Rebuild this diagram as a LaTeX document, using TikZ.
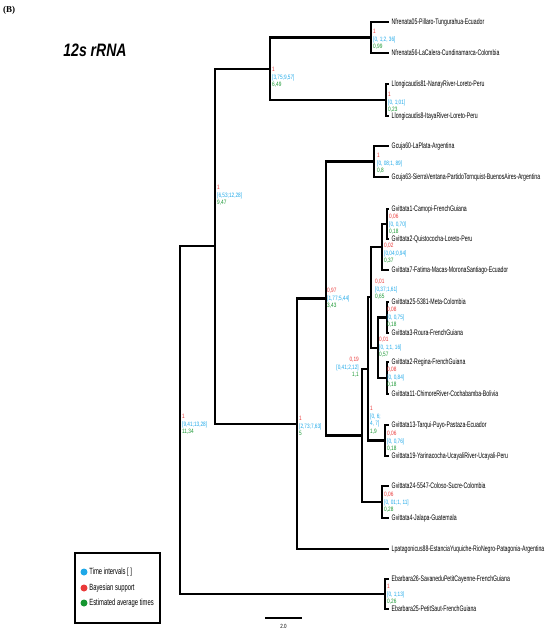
\documentclass[tikz,border=0pt]{standalone}
\usepackage{fontspec}
\usetikzlibrary{positioning}
\newfontfamily\treefont[FakeStretch=0.65]{Liberation Sans}
\newfontfamily\labfont[FakeStretch=0.75]{Liberation Sans}
\newfontfamily\titlefont[FakeStretch=0.78]{Liberation Sans}
\newfontfamily\panelfont{Liberation Serif}
\definecolor{bsup}{RGB}{234,58,58}
\definecolor{tint}{RGB}{30,168,232}
\definecolor{etime}{RGB}{22,150,48}
\newcommand{\nlab}[3]{\textcolor{bsup}{#1}\\\textcolor{tint}{#2}\\\textcolor{etime}{#3}}

\begin{document}
\begin{tikzpicture}[x=1pt,y=-1pt]
        \tikzstyle{every node}+=[inner sep=0pt]
        \tikzstyle{tip}=[anchor=west,inner xsep=3.5pt,font=\treefont\fontsize{8}{9}\selectfont]
        \tikzstyle{lab}=[anchor=north west,align=left,font=\labfont\fontsize{6.3}{7.6}\selectfont]
        \tikzstyle{hbranch}=[line width=2.8pt,line cap=rect]
        \tikzstyle{vbranch}=[line width=2pt]
        \tikzstyle{dot}=[circle,minimum size=7pt]
        \tikzstyle{key}=[font=\treefont\fontsize{9}{10}\selectfont]
        \useasboundingbox (0,0) rectangle (550,637);
        \node[anchor=west,font=\panelfont\bfseries\fontsize{9}{10}\selectfont] (panel) at (3,10) {(B)};
        \node[font=\titlefont\bfseries\itshape\fontsize{18}{20}\selectfont] (title) at (95,50) {12s rRNA};
        \node[tip] (nf05) at (388,22) {Nfrenata05-Pillaro-Tungurahua-Ecuador};
        \node[tip] (nf56) at (388,53) {Nfrenata56-LaCalera-Cundinamarca-Colombia};
        \node[tip] (ll81) at (388,84) {Llongicaudis81-NanayRiver-Loreto-Peru};
        \node[tip] (ll8) at (388,116) {Llongicaudis8-ItayaRiver-Loreto-Peru};
        \node[tip] (gc60) at (388,146) {Gcuja60-LaPlata-Argentina};
        \node[tip] (gc63) at (388,177) {Gcuja63-SierraVentana-PartidoTornquist-BuenosAires-Argentina};
        \node[tip] (gv1) at (388,209) {Gvittata1-Camopi-FrenchGuiana};
        \node[tip] (gv2q) at (388,239) {Gvittata2-Quistococha-Loreto-Peru};
        \node[tip] (gv7) at (388,270) {Gvittata7-Fatima-Macas-MoronaSantiago-Ecuador};
        \node[tip] (gv25) at (388,302) {Gvittata25-5381-Meta-Colombia};
        \node[tip] (gv3) at (388,333) {Gvittata3-Roura-FrenchGuiana};
        \node[tip] (gv2r) at (388,362) {Gvittata2-Regina-FrenchGuiana};
        \node[tip] (gv11) at (388,394) {Gvittata11-ChimoreRiver-Cochabamba-Bolivia};
        \node[tip] (gv13) at (388,425) {Gvittata13-Tarqui-Puyo-Pastaza-Ecuador};
        \node[tip] (gv19) at (388,456) {Gvittata19-Yarinacocha-UcayaliRiver-Ucayali-Peru};
        \node[tip] (gv24) at (388,486) {Gvittata24-5547-Coloso-Sucre-Colombia};
        \node[tip] (gv4) at (388,518) {Gvittata4-Jalapa-Guatemala};
        \node[tip] (lp88) at (388,549) {Lpatagonicus88-EstanciaYuquiche-RioNegro-Patagonia-Argentina};
        \node[tip] (eb26) at (388,579) {Ebarbara26-SavaneduPetitCayenne-FrenchGuiana};
        \node[tip] (eb25) at (388,609) {Ebarbara25-PetitSaut-FrenchGuiana};
        \coordinate (root) at (180,420);
        \coordinate (ingroup) at (215,246);
        \coordinate (nl) at (270,69);
        \coordinate (nf) at (371,37.5);
        \coordinate (ll) at (386,100);
        \coordinate (glp) at (297,424);
        \coordinate (gg) at (326,298.5);
        \coordinate (gc) at (374,161.5);
        \coordinate (gva) at (362,435.5);
        \coordinate (gvb) at (368,369);
        \coordinate (gvc) at (371,297);
        \coordinate (gvd) at (382,247);
        \coordinate (gve) at (387,224);
        \coordinate (gvf) at (378,348);
        \coordinate (gvg) at (387,317.5);
        \coordinate (gvh) at (387,378);
        \coordinate (gvi) at (385,440.5);
        \coordinate (gvj) at (382,502);
        \coordinate (eb) at (385,594);
        \foreach \p/\c in {root/ingroup,root/eb,ingroup/nl,ingroup/glp,nl/nf,nl/ll,
                nf/nf05.west,nf/nf56.west,ll/ll81.west,ll/ll8.west,glp/gg,glp/lp88.west,
                gg/gc,gg/gva,gc/gc60.west,gc/gc63.west,gva/gvb,gva/gvj,gvb/gvc,gvb/gvi,
                gvc/gvd,gvc/gvf,gvd/gve,gvd/gv7.west,gve/gv1.west,gve/gv2q.west,
                gvf/gvg,gvf/gvh,gvg/gv25.west,gvg/gv3.west,gvh/gv2r.west,gvh/gv11.west,
                gvi/gv13.west,gvi/gv19.west,gvj/gv24.west,gvj/gv4.west,
                eb/eb26.west,eb/eb25.west}{
          \draw[vbranch] (\p) -- (\p |- \c);
          \draw[hbranch] (\p |- \c) -- (\c);
        }
        \node[lab] at (373,29) {\nlab{1}{[0, 1;2, 36]}{0,99}};
        \node[lab] at (272,67) {\nlab{1}{[3,75;9,57]}{6,49}};
        \node[lab] at (388,92) {\nlab{1}{[0, 1;01]}{0,23}};
        \node[lab] at (217,185) {\nlab{1}{[6,53;12,28]}{9,47}};
        \node[lab] at (182,414) {\nlab{1}{[9,41;13,28]}{11,34}};
        \node[lab] at (377,153) {\nlab{1}{[0, 08;1, 89]}{0,8}};
        \node[lab] at (327,288) {\nlab{0,97}{[1,77;5,44]}{3,43}};
        \node[lab] at (389,214) {\nlab{0,06}{[0, 0,70]}{0,18}};
        \node[lab] at (384,243) {\nlab{0,02}{[0,04;0,94]}{0,37}};
        \node[lab] at (375,279) {\nlab{0,01}{[0,37;1,61]}{0,65}};
        \node[lab] at (387,307) {\nlab{0,08}{[0, 0,75]}{0,18}};
        \node[lab] at (379,337) {\nlab{0,01}{[0, 1;1, 16]}{0,57}};
        \node[lab] at (387,367) {\nlab{0,08}{[0, 0,84]}{0,18}};
        \node[lab,anchor=north east,align=right] at (359,357) {\nlab{0,19}{[0,41;2,12]}{1,1}};
        \node[lab] at (370,406) {\textcolor{bsup}{1}\\\textcolor{tint}{[0, 6;}\\\textcolor{tint}{4, 7]}\\\textcolor{etime}{1,9}};
        \node[lab] at (299,416) {\nlab{1}{[2,73;7,63]}{5}};
        \node[lab] at (387,431) {\nlab{0,06}{[0, 0,76]}{0,18}};
        \node[lab] at (384,492) {\nlab{0,06}{[0, 01;1, 11]}{0,28}};
        \node[lab] at (387,584) {\nlab{1}{[0, 1;13]}{0,26}};
        \node[draw,line width=1.3pt,minimum width=85pt,minimum height=70pt] (legend) at (117.5,588) {};
        \node[dot,fill=tint] (k1) at (84,572) {};
        \node[dot,fill=bsup] (k2) at (84,588) {};
        \node[dot,fill=etime] (k3) at (84,603) {};
        \node[key,right=1.5pt of k1] (t1) {Time intervals [ ]};
        \node[key,right=1.5pt of k2] (t2) {Bayesian support};
        \node[key,right=1.5pt of k3] (t3) {Estimated average times};
        \coordinate (s0) at (265,618);
        \coordinate (s1) at (302,618);
        \draw[line width=1.3pt] (s0) -- (s1) node[midway,below=6pt,font=\labfont\fontsize{6}{7}\selectfont] (sl) {2.0};
\end{tikzpicture}
\end{document}
